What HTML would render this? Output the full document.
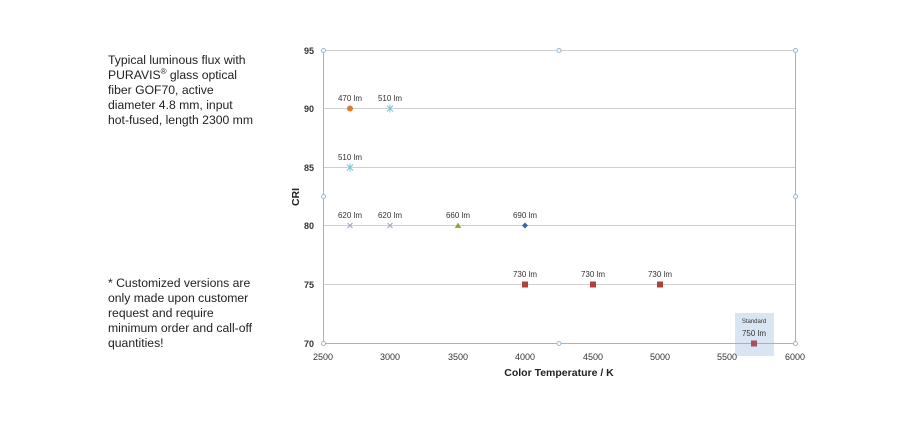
<!DOCTYPE html>
<html><head><style>
body{margin:0;background:#fff;width:900px;height:425px;overflow:hidden;position:relative;font-family:"Liberation Sans",Arial,sans-serif}
.t{position:absolute;left:108px;font-size:12.2px;line-height:15px;color:#222}
</style></head><body>
<div class="t" style="top:53px">Typical luminous flux with<br>PURAVIS<sup style="font-size:8px;line-height:0">®</sup> glass optical<br>fiber GOF70, active<br>diameter 4.8 mm, input<br>hot-fused, length 2300 mm</div>
<div class="t" style="top:276px">* Customized versions are<br>only made upon customer<br>request and require<br>minimum order and call-off<br>quantities!</div>
<svg width="900" height="425" style="position:absolute;left:0;top:0" font-family="Liberation Sans, Arial, sans-serif">
<rect x="735" y="313" width="39" height="43" fill="#dae5f4"/>
<g stroke="#cfcfcf" stroke-width="1">
<line x1="323" y1="50.5" x2="795" y2="50.5"/>
<line x1="323" y1="108.5" x2="795" y2="108.5"/>
<line x1="323" y1="167.5" x2="795" y2="167.5"/>
<line x1="323" y1="225.5" x2="795" y2="225.5"/>
<line x1="323" y1="284.5" x2="795" y2="284.5"/>
</g>
<g stroke="#b0b0b0" stroke-width="1">
<line x1="323.5" y1="50" x2="323.5" y2="343"/>
<line x1="795.5" y1="50" x2="795.5" y2="343"/>
<line x1="323" y1="343.5" x2="795" y2="343.5"/>
</g>
<g fill="#fff" stroke="#9ab8d0" stroke-width="1">
<circle cx="323.5" cy="50.5" r="2"/><circle cx="559" cy="50.5" r="2"/><circle cx="795.5" cy="50.5" r="2"/>
<circle cx="323.5" cy="196.5" r="2"/><circle cx="795.5" cy="196.5" r="2"/>
<circle cx="323.5" cy="343.5" r="2"/><circle cx="559" cy="343.5" r="2"/><circle cx="795.5" cy="343.5" r="2"/>
</g>
<g font-size="9" fill="#333" font-weight="bold" text-anchor="end">
<text x="314" y="54">95</text><text x="314" y="112">90</text><text x="314" y="171">85</text>
<text x="314" y="229">80</text><text x="314" y="288">75</text><text x="314" y="347">70</text>
</g>
<g font-size="9" fill="#333" text-anchor="middle">
<text x="323" y="360">2500</text><text x="390" y="360">3000</text><text x="458" y="360">3500</text>
<text x="525" y="360">4000</text><text x="593" y="360">4500</text><text x="660" y="360">5000</text>
<text x="727" y="360">5500</text><text x="795" y="360">6000</text>
</g>
<text x="559" y="376" font-size="10.5" font-weight="bold" text-anchor="middle" fill="#222">Color Temperature / K</text>
<text x="299" y="197" font-size="10.5" font-weight="bold" text-anchor="middle" fill="#222" transform="rotate(-90 299 197)">CRI</text>
<g font-size="8" fill="#333" text-anchor="middle">
<text x="350" y="101">470 lm</text><text x="390" y="101">510 lm</text>
<text x="350" y="160">510 lm</text>
<text x="350" y="218">620 lm</text><text x="390" y="218">620 lm</text><text x="458" y="218">660 lm</text><text x="525" y="218">690 lm</text>
<text x="525" y="277">730 lm</text><text x="593" y="277">730 lm</text><text x="660" y="277">730 lm</text>
<text x="754" y="336">750 lm</text>
<text x="754" y="323" font-size="6">Standard</text>
</g>
<circle cx="350" cy="108.5" r="3" fill="#e07b2c"/>
<g stroke="#7ac4d6" stroke-width="1">
<path d="M387 105.5l6 6M393 105.5l-6 6M390 104.5v8"/>
<path d="M347 164.5l6 6M353 164.5l-6 6M350 163.5v8"/>
</g>
<g stroke="#a0a0b8" stroke-width="1">
<path d="M347.5 223l5 5M352.5 223l-5 5M387.5 223l5 5M392.5 223l-5 5"/>
</g>
<path d="M458 222.5l3.2 5.5h-6.4z" fill="#8aa83c"/>
<path d="M525 222.5l3 3-3 3-3-3z" fill="#3a66a8"/>
<g fill="#b04040">
<rect x="522" y="281.5" width="6" height="6"/><rect x="590" y="281.5" width="6" height="6"/>
<rect x="657" y="281.5" width="6" height="6"/><rect x="751" y="340.5" width="6" height="6" fill="#a85060"/>
</g>
</svg>
</body></html>
